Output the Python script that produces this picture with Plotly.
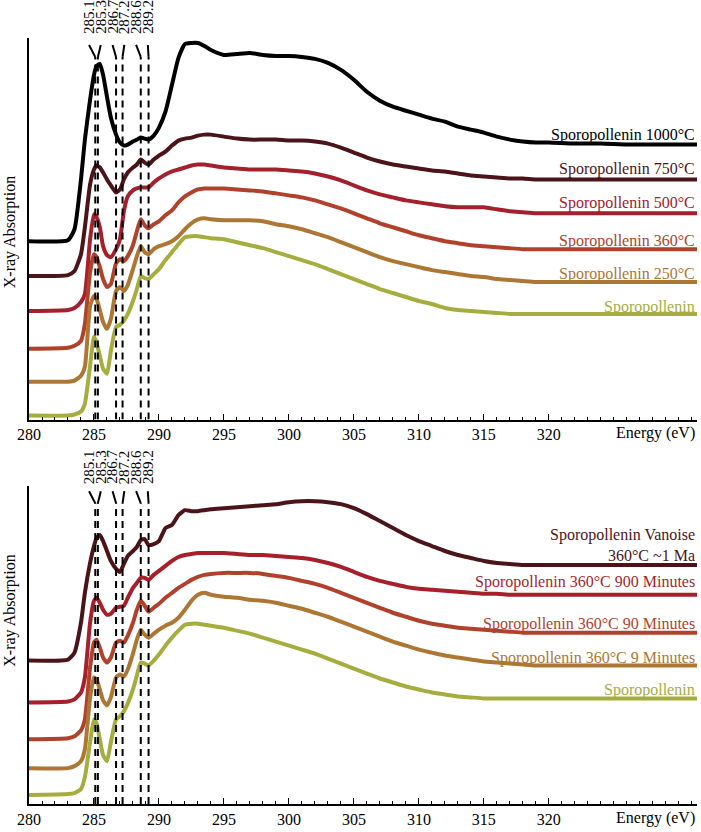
import plotly.graph_objects as go

# ---------------- data ----------------
energy = [280, 283, 283.5, 284, 284.3, 284.7, 285.0, 285.2, 285.45, 285.7,
          286.0, 286.3, 286.7, 287.0, 287.3, 287.6, 288.0, 288.3, 288.6, 288.9,
          289.2, 289.6, 290.0, 290.5, 291.0, 291.5, 292.0, 292.5, 293.0, 293.5,
          294.0, 295, 296, 297, 298, 299, 300, 301, 302, 303, 304, 305, 306, 307,
          308, 309, 310, 311, 312, 313, 314, 315, 316, 317, 318, 319, 320, 322,
          324, 326, 328, 330, 331.4]

# top panel (temperature series), arbitrary absorption units incl. stacking offset
top_1000 = [179, 180, 191, 241, 281, 321, 346, 355, 357, 346, 324, 303, 286, 278, 275, 276,
            279, 281, 283, 282, 281, 285, 293, 309, 336, 363, 377, 378, 378, 375, 371,
            366, 367, 368, 366, 365, 365, 364, 362, 358, 351, 341, 329, 320, 314, 310,
            306, 302, 299, 294, 291, 288, 284, 281, 279, 278, 278, 277, 277, 276, 276, 276, 276]
top_750 = [144, 145, 149, 166, 193, 236, 251, 255, 253, 248, 241, 235, 228, 231, 241, 248,
           253, 256, 261, 258, 256, 261, 265, 269, 275, 280, 282, 283, 285, 286, 286,
           284, 282, 281, 281, 281, 280, 280, 279, 277, 273, 268, 263, 259, 256, 254,
           252, 250, 249, 247, 245, 244, 243, 242, 242, 241, 241, 241, 241, 241, 241, 241, 241]
top_500 = [109, 110, 112, 118, 126, 181, 206, 203, 193, 174, 165, 163, 171, 181, 209, 224,
           230, 232, 233, 233, 233, 238, 242, 246, 249, 251, 253, 255, 256, 256, 255,
           253, 252, 251, 251, 251, 250, 249, 247, 244, 240, 235, 230, 226, 223, 220,
           218, 216, 214, 213, 213, 213, 211, 209, 208, 207, 207, 207, 207, 207, 207, 207, 207]
top_360 = [71, 72, 74, 79, 96, 148, 166, 163, 153, 141, 133, 136, 157, 161, 159, 164,
           175, 189, 201, 195, 192, 196, 199, 205, 210, 218, 224, 228, 231, 232, 232,
           232, 231, 230, 229, 227, 225, 223, 220, 216, 212, 207, 202, 197, 193, 189,
           185, 182, 179, 177, 175, 174, 173, 172, 171, 171, 171, 171, 171, 171, 171, 171, 171]
top_250 = [38, 38, 39, 44, 53, 114, 124, 121, 110, 98, 91, 101, 129, 133, 129, 135,
           151, 164, 174, 168, 166, 171, 174, 176, 179, 184, 191, 197, 201, 202, 201,
           200, 200, 200, 199, 196, 194, 191, 187, 183, 178, 173, 168, 163, 159, 156,
           153, 150, 148, 146, 144, 143, 141, 140, 139, 138, 138, 138, 138, 138, 138, 138, 138]
top_raw = [4, 4, 5, 8, 16, 54, 83, 77, 64, 51, 46, 69, 93, 95, 99, 106,
           119, 131, 144, 142, 141, 146, 151, 160, 168, 176, 183, 184, 184, 183, 182,
           181, 178, 175, 172, 168, 164, 160, 156, 151, 146, 141, 136, 131, 127, 123,
           119, 116, 112, 110, 109, 108, 107, 106, 106, 106, 106, 106, 106, 106, 106, 106, 106]

# bottom panel (time series at 360 °C)
bot_vanoise = [144, 145, 152, 182, 212, 242, 259, 267, 270, 264, 254, 244, 236, 233, 241, 249,
               254, 258, 265, 266, 260, 261, 264, 277, 280, 290, 295, 294, 294, 295, 296,
               297, 298, 299, 300, 301, 303, 304, 304, 303, 301, 297, 291, 284, 277, 270,
               264, 259, 254, 250, 247, 244, 242, 241, 240, 240, 240, 240, 240, 240, 240, 240, 240]
bot_900 = [102, 103, 105, 112, 127, 182, 204, 207, 202, 195, 190, 191, 197, 198, 199, 207,
           217, 222, 227, 227, 225, 230, 234, 239, 244, 248, 250, 251, 252, 252, 252,
           252, 251, 250, 250, 249, 248, 247, 245, 242, 238, 233, 228, 224, 221, 218,
           216, 215, 214, 213, 212, 211, 211, 210, 210, 210, 210, 210, 210, 210, 210, 210, 210]
bot_90 = [65, 66, 68, 74, 85, 137, 162, 165, 157, 147, 142, 147, 162, 164, 162, 169,
          182, 195, 204, 199, 193, 197, 201, 207, 212, 217, 221, 225, 228, 230, 231,
          232, 232, 232, 231, 229, 227, 224, 221, 217, 212, 207, 202, 197, 192, 188,
          184, 181, 179, 177, 176, 175, 174, 173, 172, 172, 172, 172, 172, 172, 172, 172, 172]
bot_9 = [36, 36, 38, 43, 55, 107, 127, 125, 115, 104, 99, 107, 127, 130, 128, 135,
         151, 165, 175, 170, 167, 171, 175, 179, 182, 187, 195, 204, 210, 212, 210,
         208, 207, 205, 204, 202, 199, 196, 192, 188, 183, 178, 173, 168, 163, 159,
         155, 152, 149, 147, 145, 143, 142, 141, 140, 139, 139, 139, 139, 139, 139, 139, 139]
bot_raw = [9, 10, 11, 15, 27, 62, 85, 81, 65, 49, 43, 62, 85, 88, 93, 101,
           115, 129, 142, 141, 139, 144, 150, 159, 167, 174, 180, 181, 181, 180, 179,
           177, 174, 171, 167, 163, 159, 155, 151, 146, 141, 136, 131, 126, 122, 118,
           115, 112, 110, 108, 107, 106, 106, 106, 106, 106, 106, 106, 106, 106, 106, 106, 106]

top_names = ["Sporopollenin 1000°C", "Sporopollenin 750°C", "Sporopollenin 500°C",
             "Sporopollenin 360°C", "Sporopollenin 250°C", "Sporopollenin"]
bot_names = ["Sporopollenin Vanoise<br>360°C ~1 Ma", "Sporopollenin 360°C 900 Minutes",
             "Sporopollenin 360°C 90 Minutes", "Sporopollenin 360°C 9 Minutes", "Sporopollenin"]

peak_energies = [285.1, 285.3, 286.7, 287.2, 288.6, 289.2]
peak_labels = ["285.1", "285.3", "286.7", "287.2", "288.6", "289.2"]

tick_vals = [280, 285, 290, 295, 300, 305, 310, 315, 320]
tick_text = ["280", "285", "290", "295", "300", "305", "310", "315", "320"]

# ---------------- styles ----------------
top_colors = ["#000000", "#4b1419", "#a3202c", "#b0422c", "#ad7633", "#a6ad3f"]
bot_colors = ["#4b1419", "#a61f2b", "#b0422c", "#ad7633", "#a6ad3f"]
top_label_shift = [10, 10, 10, 8, 8, 7]
bot_label_shift = [20, 13, 9, 8, 8]
FONT = "Liberation Serif, Times New Roman, serif"
PLOT_H = 769.0

fig = go.Figure()

top_series = [top_1000, top_750, top_500, top_360, top_250, top_raw]
for vals, name, col in zip(top_series, top_names, top_colors):
    fig.add_trace(go.Scatter(x=energy, y=vals, mode="lines", name=name,
                             line=dict(color=col, width=4, shape="spline", smoothing=0.5),
                             xaxis="x", yaxis="y", showlegend=False))
bot_series = [bot_vanoise, bot_900, bot_90, bot_9, bot_raw]
for vals, name, col in zip(bot_series, bot_names, bot_colors):
    fig.add_trace(go.Scatter(x=energy, y=vals, mode="lines", name=name,
                             line=dict(color=col, width=4, shape="spline", smoothing=0.5),
                             xaxis="x2", yaxis="y2", showlegend=False))

annotations = []
shapes = []

# series labels at the right end of each curve
for vals, name, col, sh in zip(top_series, top_names, top_colors, top_label_shift):
    annotations.append(dict(x=1.0, xref="paper", y=vals[-1], yref="y", text=name,
                            xanchor="right", yanchor="middle", yshift=sh, showarrow=False,
                            font=dict(family=FONT, size=16, color=col)))
for vals, name, col, sh in zip(bot_series, bot_names, bot_colors, bot_label_shift):
    annotations.append(dict(x=1.0, xref="paper", y=vals[-1], yref="y2", text=name,
                            xanchor="right", yanchor="middle", yshift=sh, showarrow=False,
                            align="right", font=dict(family=FONT, size=16, color=col)))

# dashed reference lines with fanned labels (page rows of line top, bend and label base)
for yref, y_top, y_bend, lab_row in [("y", 364, 376, 36), ("y2", 302, 314, 488)]:
    for i, (pe, pl) in enumerate(zip(peak_energies, peak_labels)):
        lab_e = 284.62 + 0.905 * i
        shapes.append(dict(type="line", xref="x", yref=yref, x0=pe, x1=pe, y0=0, y1=y_top,
                           line=dict(color="black", width=2, dash="7px,5px")))
        shapes.append(dict(type="line", xref="x", yref=yref, x0=pe, x1=lab_e, y0=y_top, y1=y_bend,
                           line=dict(color="black", width=2)))
        annotations.append(dict(x=lab_e, xref="x", y=(807 - lab_row) / PLOT_H, yref="paper",
                                text=pl, textangle=-90,
                                xanchor="center", yanchor="bottom", showarrow=False,
                                font=dict(family=FONT, size=15, color="black")))

# axis titles
for row in [233, 613]:
    annotations.append(dict(x=-19 / 668, xref="paper", y=(807 - row) / PLOT_H, yref="paper",
                            text="X-ray Absorption", textangle=-90, showarrow=False,
                            xanchor="center", yanchor="middle",
                            font=dict(family=FONT, size=16, color="black")))
for row in [435, 821]:
    annotations.append(dict(x=1.0, xref="paper", y=(807 - row) / PLOT_H, yref="paper",
                            text="Energy (eV)",
                            xanchor="right", yanchor="middle", showarrow=False,
                            font=dict(family=FONT, size=16, color="black")))

xaxis_common = dict(range=[280, 331.4], showline=True, linecolor="black", linewidth=1.5,
                    showgrid=False, zeroline=False, tickmode="array", tickvals=tick_vals,
                    ticktext=tick_text, ticks="inside", ticklen=6, tickwidth=1.2,
                    tickcolor="black",
                    minor=dict(tickmode="linear", tick0=280, dtick=1, ticks="inside",
                               ticklen=3, tickwidth=1.2, tickcolor="black", showgrid=False),
                    tickfont=dict(family=FONT, size=16, color="black"), fixedrange=True)
yaxis_common = dict(showline=True, linecolor="black", linewidth=1.5, showgrid=False,
                    zeroline=False, showticklabels=False, ticks="", fixedrange=True)

top_dom = [(807 - 421) / PLOT_H, 1.0]
bot_dom = [0.0, (807 - 488) / PLOT_H]

fig.update_layout(
    width=701, height=832,
    margin=dict(l=29, r=4, t=38, b=25),
    paper_bgcolor="white", plot_bgcolor="white",
    xaxis=dict(domain=[0, 1], anchor="y", **xaxis_common),
    yaxis=dict(domain=top_dom, anchor="x", range=[0, 383], **yaxis_common),
    xaxis2=dict(domain=[0, 1], anchor="y2", **xaxis_common),
    yaxis2=dict(domain=bot_dom, anchor="x2", range=[0, 319], **yaxis_common),
    annotations=annotations, shapes=shapes, showlegend=False,
)

fig.write_html("out.html",
               config={"displayModeBar": False},
               post_script="document.body.style.margin='0px';"
                           "document.body.style.overflow='hidden';")
